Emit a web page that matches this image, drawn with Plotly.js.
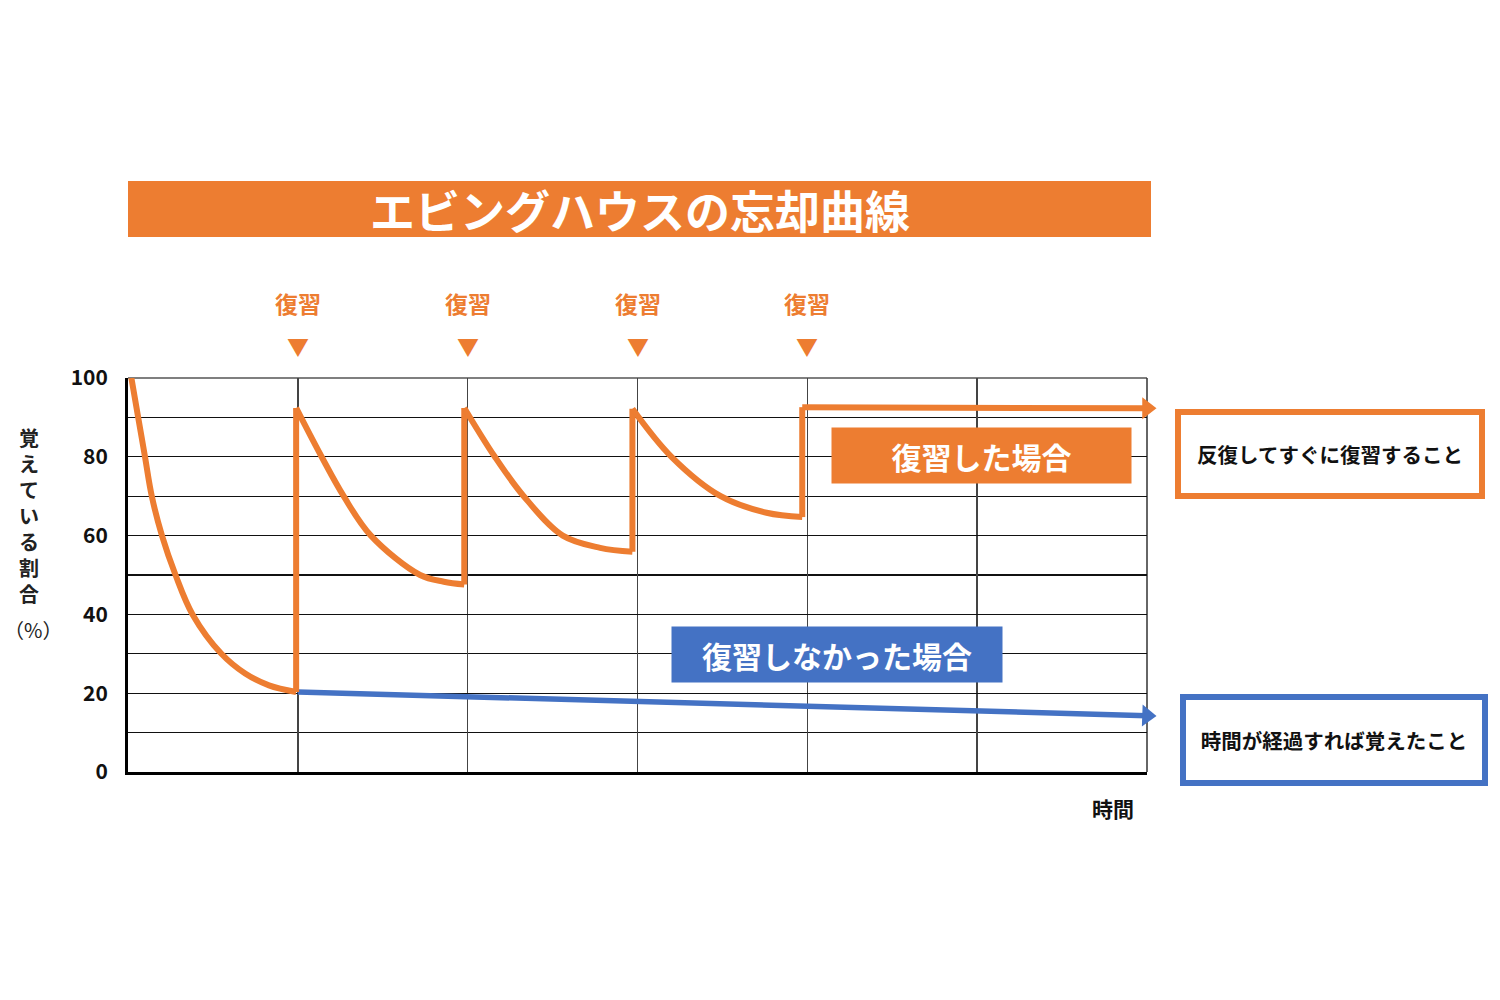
<!DOCTYPE html>
<html>
<head>
<meta charset="utf-8">
<script src="https://cdn.plot.ly/plotly-3.0.1.min.js"></script>
<style>
  html, body { margin: 0; padding: 0; background: #fff; }
  #plotDiv { width: 1500px; height: 1000px; }
</style>
</head>
<body>
<div id="plotDiv"></div>
<script>
/* =========================
   Data
========================= */

const ORANGE = '#ED7D31';
const BLUE = '#4472C4';
const JP_FONT = '"Noto Sans CJK JP", "Noto Sans", sans-serif';

// review timings on the time axis
const reviewTimes = [1, 2, 3, 4];
const reviewLabel = '復習';

// retention curve with reviews, one list per stretch between reviews
const reviewedX = [
    [0.02, 0.06, 0.10, 0.14, 0.20, 0.28, 0.38, 0.55, 0.69, 0.83, 0.99],
    [0.99, 1.14, 1.27, 1.43, 1.72, 1.86, 1.98],
    [1.98, 2.16, 2.33, 2.56, 2.78, 2.97],
    [2.97, 3.20, 3.49, 3.76, 3.97],
    [3.97, 6.0],
];
const reviewedY = [
    [100, 90, 80, 70, 60, 50, 40, 30, 25, 22, 20.3],
    [92.4, 80, 70, 60, 50, 48.3, 47.6],
    [92.4, 80, 70, 60, 56.9, 55.9],
    [92.2, 80, 70, 65.8, 64.7],
    [92.6, 92.3],
];

// retention without review
const forgottenX = [1.0, 6.0];
const forgottenY = [20.3, 14.3];

const yTickVals = [0, 20, 40, 60, 80, 100];

const chartTitle = 'エビングハウスの忘却曲線';
const yTitleChars = ['覚', 'え', 'て', 'い', 'る', '割', '合'];
const yTitleUnit = '（%）';
const xTitle = '時間';
const reviewedLabel = '復習した場合';
const forgottenLabel = '復習しなかった場合';
const reviewedNote = '反復してすぐに復習すること';
const forgottenNote = '時間が経過すれば覚えたこと';

/* =========================
   Page geometry
========================= */

const PLOT_L = 128, PLOT_R = 1147, PLOT_T = 378, PLOT_B = 772;
const px = v => (v - PLOT_L) / (PLOT_R - PLOT_L);
const py = v => (PLOT_B - v) / (PLOT_B - PLOT_T);

function label(x, y, text, font, extra) {
    return {
        xref: 'paper', yref: 'paper', x: px(x), y: py(y),
        xanchor: 'center', yanchor: 'middle',
        text, showarrow: false, font, ...extra,
    };
}

function buildReviewedTrace() {
    const x = [];
    const y = [];
    reviewedX.forEach((seg, i) => {
        if (i > 0) {
            // vertical jump at the review
            const prev = reviewedX[i - 1];
            const prevY = reviewedY[i - 1];
            x.push(null, prev[prev.length - 1], seg[0], null);
            y.push(null, prevY[prevY.length - 1], reviewedY[i][0], null);
        }
        x.push(...seg);
        y.push(...reviewedY[i]);
    });
    return {
        type: 'scatter',
        mode: 'lines',
        x,
        y,
        connectgaps: false,
        line: { color: ORANGE, width: 6, shape: 'spline', smoothing: 1 },
        hoverinfo: 'skip',
    };
}

function plotChart() {
    const lastSeg = reviewedX.length - 1;
    const reviewedEndX = reviewedX[lastSeg][reviewedX[lastSeg].length - 1];
    const reviewedEndY = reviewedY[lastSeg][reviewedY[lastSeg].length - 1];
    const forgottenEnd = forgottenX.length - 1;

    const data = [
        {
            type: 'scatter',
            mode: 'lines',
            x: forgottenX,
            y: forgottenY,
            line: { color: BLUE, width: 5.5 },
            hoverinfo: 'skip',
        },
        buildReviewedTrace(),
        {
            // arrowheads at the ends of both lines
            type: 'scatter',
            mode: 'markers',
            x: [reviewedEndX, forgottenX[forgottenEnd]],
            y: [reviewedEndY, forgottenY[forgottenEnd]],
            cliponaxis: false,
            marker: { symbol: 'triangle-right', size: 19, color: [ORANGE, BLUE], angle: [0, 2] },
            hoverinfo: 'skip',
        },
    ];

    const annotations = [
        label(640, 209, chartTitle, { family: JP_FONT, size: 45, color: '#fff', weight: 'bold' }),
        label(29, 515, yTitleChars.join('<br>'), { family: JP_FONT, size: 20, color: '#222', weight: 'bold' }),
        label(33, 629, yTitleUnit, { family: JP_FONT, size: 20, color: '#222' }),
        label(1113, 808, xTitle, { family: JP_FONT, size: 21, color: '#111', weight: 'bold' }),
        label(981.5, 455.5, reviewedLabel,
            { family: JP_FONT, size: 30, color: '#fff', weight: 'bold' },
            { width: 299, height: 55, borderpad: 0, bgcolor: ORANGE }),
        label(837, 654.5, forgottenLabel,
            { family: JP_FONT, size: 30, color: '#fff', weight: 'bold' },
            { width: 330, height: 55, borderpad: 0, bgcolor: BLUE }),
        label(1330, 454, reviewedNote,
            { family: JP_FONT, size: 20.5, color: '#111', weight: 'bold' },
            { width: 298, height: 78, borderpad: 0, bgcolor: '#fff', bordercolor: ORANGE, borderwidth: 6 }),
        label(1334, 740, forgottenNote,
            { family: JP_FONT, size: 20.5, color: '#111', weight: 'bold' },
            { width: 296, height: 80, borderpad: 0, bgcolor: '#fff', bordercolor: BLUE, borderwidth: 6 }),
    ];

    reviewTimes.forEach(t => {
        annotations.push({
            xref: 'x', yref: 'paper', x: t, y: py(303), xanchor: 'center', yanchor: 'middle',
            text: reviewLabel, showarrow: false,
            font: { family: JP_FONT, size: 23, color: ORANGE, weight: 'bold' },
        });
        annotations.push({
            xref: 'x', yref: 'paper', x: t, y: py(345), xanchor: 'center', yanchor: 'middle',
            text: '▼', showarrow: false,
            font: { family: JP_FONT, size: 22, color: ORANGE },
        });
    });

    const shapes = [
        {
            type: 'rect', xref: 'paper', yref: 'paper', layer: 'below',
            x0: px(128), x1: px(1151), y0: py(237), y1: py(181),
            fillcolor: ORANGE, line: { width: 0 },
        },
        // frame lines at the top and right edges of the grid
        {
            type: 'line', xref: 'paper', yref: 'paper', layer: 'below',
            x0: 0, x1: 1, y0: 1, y1: 1,
            line: { color: '#555', width: 1.5 },
        },
        {
            type: 'line', xref: 'paper', yref: 'paper', layer: 'below',
            x0: 1, x1: 1, y0: 0, y1: 1,
            line: { color: '#333', width: 1.5 },
        },
    ];

    const layout = {
        width: 1500,
        height: 1000,
        margin: { l: PLOT_L, r: 1500 - PLOT_R, t: PLOT_T, b: 1000 - PLOT_B, pad: 0 },
        paper_bgcolor: '#fff',
        plot_bgcolor: '#fff',
        showlegend: false,
        hovermode: false,
        font: { family: JP_FONT, color: '#111' },
        xaxis: {
            range: [0, 6],
            dtick: 1,
            tick0: 0,
            showticklabels: false,
            ticks: '',
            showgrid: true,
            gridcolor: '#444',
            gridwidth: 1.5,
            zeroline: false,
            showline: true,
            linecolor: '#000',
            linewidth: 3,
            fixedrange: true,
        },
        yaxis: {
            range: [0, 100],
            tickvals: yTickVals,
            ticks: '',
            ticklabelstandoff: 13,
            tickfont: { family: JP_FONT, size: 21, color: '#111', weight: 'bold' },
            showgrid: true,
            gridcolor: '#111',
            gridwidth: 1.3,
            minor: { dtick: 10, showgrid: true, gridcolor: '#111', gridwidth: 1.3 },
            zeroline: false,
            showline: true,
            linecolor: '#000',
            linewidth: 3,
            fixedrange: true,
        },
        annotations,
        shapes,
    };

    Plotly.newPlot('plotDiv', data, layout, { displayModeBar: false, staticPlot: true });
}

plotChart();
</script>
</body>
</html>
